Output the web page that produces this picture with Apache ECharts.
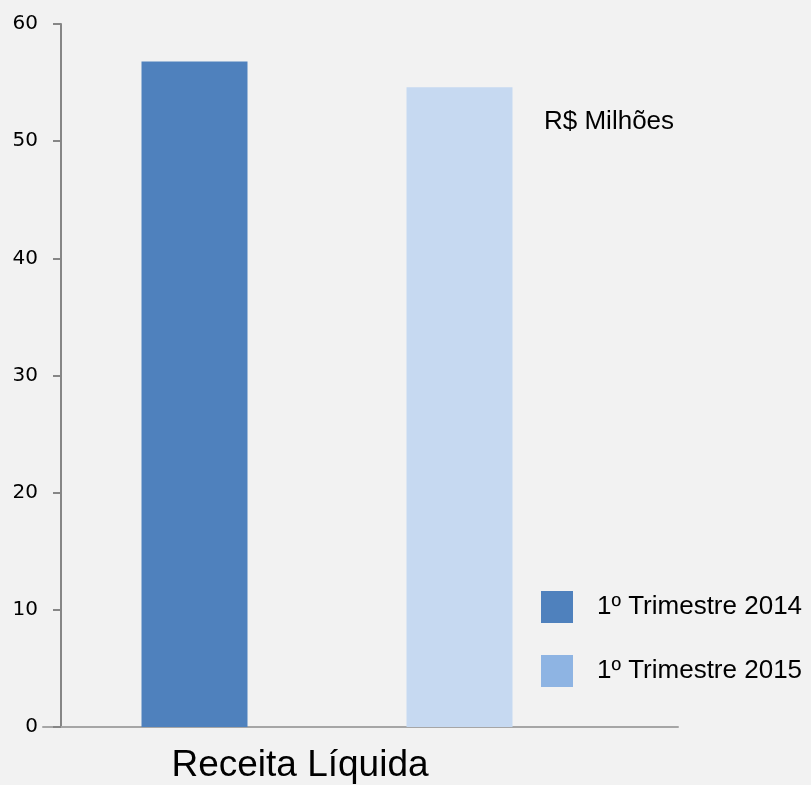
<!DOCTYPE html>
<html>
<head>
<meta charset="utf-8">
<script src="https://cdn.jsdelivr.net/npm/echarts@6/dist/echarts.min.js"></script>
<style>
  html, body { margin: 0; padding: 0; background: #f2f2f2; }
  #main { width: 811px; height: 785px; }
</style>
</head>
<body>
<div id="main"></div>
<script>
var categories = ['Receita Líquida'];
var seriesNames = ['1º Trimestre 2014', '1º Trimestre 2015'];
var values2014 = [56.8];
var values2015 = [54.6];
var yTicks = [0, 10, 20, 30, 40, 50, 60];

var mychart = echarts.init(document.getElementById('main'));

var option = {
    animation: false,
    backgroundColor: '#f2f2f2',
    title: {
        text: 'R$ Milhões',
        left: 544,
        top: 109,
        padding: 0,
        textStyle: {
            fontFamily: 'Liberation Sans',
            fontSize: 26,
            fontWeight: 'normal',
            color: '#000'
        }
    },
    legend: {
        orient: 'vertical',
        left: 541,
        top: 591,
        padding: 0,
        itemWidth: 32,
        itemHeight: 32,
        itemGap: 32,
        icon: 'rect',
        textStyle: {
            fontFamily: 'Liberation Sans',
            fontSize: 26,
            color: '#000',
            padding: [2, 0, 0, 19]
        },
        data: [
            { name: seriesNames[0], itemStyle: { color: '#4f81bd' } },
            { name: seriesNames[1], itemStyle: { color: '#8eb4e3' } }
        ]
    },
    grid: [
        { left: 61, right: 218, top: 24, bottom: 58 },
        { left: 43, right: 133, top: 24, bottom: 58 }
    ],
    xAxis: [{
        type: 'category',
        gridIndex: 0,
        data: categories,
        axisLine: { show: false },
        axisTick: { show: false },
        axisLabel: {
            margin: 20,
            padding: [0, 54, 0, 0],
            fontFamily: 'Liberation Sans',
            fontSize: 37,
            color: '#000'
        }
    }, {
        type: 'category',
        gridIndex: 1,
        data: categories,
        axisLine: { show: true, lineStyle: { color: '#a6a6a6', width: 2 } },
        axisTick: { show: false },
        axisLabel: { show: false }
    }],
    yAxis: [{
        type: 'value',
        gridIndex: 0,
        min: yTicks[0],
        max: yTicks[yTicks.length - 1],
        interval: 10,
        axisLine: { show: true, lineStyle: { color: '#868686', width: 2 } },
        axisTick: { show: true, length: 8, lineStyle: { color: '#868686', width: 2 } },
        splitLine: { show: false },
        axisLabel: {
            margin: 23,
            fontFamily: 'DejaVu Sans',
            fontSize: 20,
            color: '#000'
        }
    }, {
        type: 'value',
        gridIndex: 1,
        min: 0,
        max: 60,
        show: false
    }],
    series: [
        {
            name: seriesNames[0],
            type: 'bar',
            barWidth: 106,
            barGap: '150%',
            itemStyle: { color: '#4f81bd' },
            data: values2014
        },
        {
            name: seriesNames[1],
            type: 'bar',
            barWidth: 106,
            itemStyle: { color: '#c6d9f1' },
            data: values2015
        }
    ]
};
mychart.setOption(option);
</script>
</body>
</html>
